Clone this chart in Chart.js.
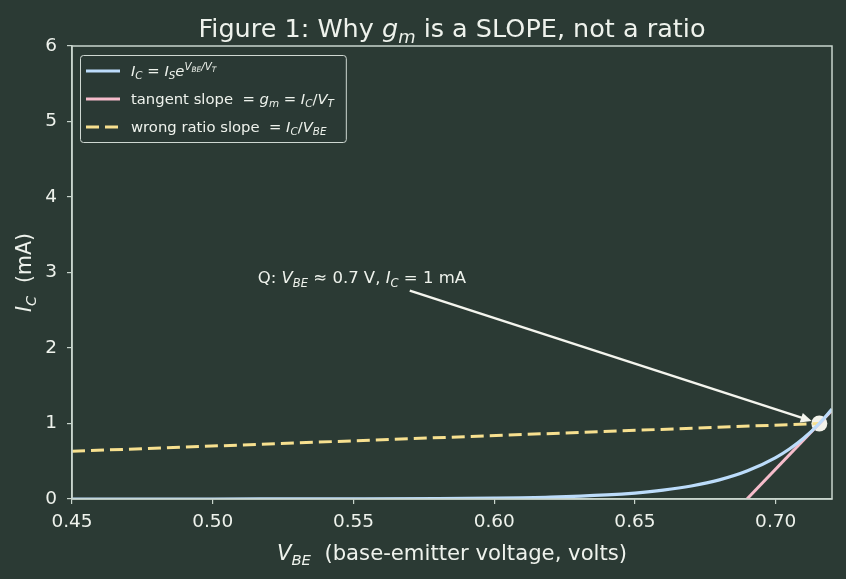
<!DOCTYPE html>
<html>
<head>
<meta charset="utf-8">
<script src="https://cdn.jsdelivr.net/npm/chart.js@4.4.1/dist/chart.umd.min.js"></script>
<style>
  html, body { margin: 0; background: #2b3a34; }
  #wrap { width: 846px; height: 579px; position: relative; }
</style>
</head>
<body>
<div id="wrap"><canvas id="c"></canvas></div>
<script>
// valores
const vbe = [0.45, 0.50, 0.55, 0.58, 0.60, 0.62, 0.64, 0.65, 0.66, 0.67, 0.68, 0.69, 0.70, 0.705, 0.71, 0.7155, 0.72];
const icCurva = [0.0000, 0.0002, 0.0017, 0.0053, 0.0115, 0.025, 0.054, 0.079, 0.117, 0.172, 0.253, 0.373, 0.549, 0.666, 0.808, 1.0, 1.19];
const tangX = [0.6898, 0.72];
const tangY = [0.0, 1.174];
const razaoX = [0.45, 0.7155];
const razaoY = [0.632, 1.0];
const pontoQ = [0.7155, 1.0];
const xTicks = [0.45, 0.50, 0.55, 0.60, 0.65, 0.70];
const yTicks = [0, 1, 2, 3, 4, 5, 6];
const textoQ = [0.516, 2.94];
const setaInicio = [0.570, 2.76];

const corFundo = '#2b3a34';
const corTexto = '#eef2ec';
const corEixo = '#c9d5cd';
const FONTE = '"DejaVu Sans"';

//Textos com partes em itálico / subscrito
const titulo = [['Figure 1: Why ', 'r'], ['g', 'i'], ['m', 'sub'], [' is a SLOPE, not a ratio', 'r']];
const rotuloX = [['V', 'i'], ['BE', 'sub'], ['  (base-emitter voltage, volts)', 'r']];
const rotuloY = [['I', 'i'], ['C', 'sub'], ['  (mA)', 'r']];
const rotuloQ = [['Q: ', 'r'], ['V', 'i'], ['BE', 'sub'], [' \u2248 0.7 V, ', 'r'], ['I', 'i'], ['C', 'sub'], [' = 1 mA', 'r']];
const legendas = [
    [['I', 'i'], ['C', 'sub'], [' = ', 'r'], ['I', 'i'], ['S', 'sub'], ['e', 'i'], ['V', 'sup'], ['BE', 'supsub'], ['/V', 'sup'], ['T', 'supsub']],
    [['tangent slope  = ', 'r'], ['g', 'i'], ['m', 'sub'], [' = ', 'r'], ['I', 'i'], ['C', 'sub'], ['/', 'r'], ['V', 'i'], ['T', 'sub']],
    [['wrong ratio slope  = ', 'r'], ['I', 'i'], ['C', 'sub'], ['/', 'r'], ['V', 'i'], ['BE', 'sub']]
];

const estilos = {
    r: { it: false, s: 1, dy: 0 },
    i: { it: true, s: 1, dy: 0 },
    sub: { it: true, s: 0.7, dy: 0.22 },
    sup: { it: true, s: 0.7, dy: -0.42 },
    supsub: { it: true, s: 0.5, dy: -0.25 }
};

function fonte(st, size) {
    return (st.it ? 'italic ' : '') + (size * st.s).toFixed(2) + 'px ' + FONTE;
}

function larguraRica(ctx, segs, size) {
    let w = 0;
    for (const [t, k] of segs) {
        ctx.font = fonte(estilos[k], size);
        w += ctx.measureText(t).width;
    }
    return w;
}

function desenharRico(ctx, segs, x, y, size, align, cor) {
    let w = larguraRica(ctx, segs, size);
    let px = align == 'center' ? x - w / 2 : x;
    ctx.save();
    ctx.fillStyle = cor;
    ctx.textBaseline = 'alphabetic';
    ctx.textAlign = 'left';
    for (const [t, k] of segs) {
        let st = estilos[k];
        ctx.font = fonte(st, size);
        ctx.fillText(t, px, y + st.dy * size);
        px += ctx.measureText(t).width;
    }
    ctx.restore();
}

const pares = (xs, ys) => xs.map((x, i) => ({ x: x, y: ys[i] }));

const extras = {
    id: 'extras',
    beforeDraw(chart) {
        const ctx = chart.ctx;
        ctx.save();
        ctx.fillStyle = corFundo;
        ctx.fillRect(0, 0, chart.width, chart.height);
        ctx.restore();
    },
    afterDatasetsDraw(chart) {
        const ctx = chart.ctx;
        const sx = chart.scales.x, sy = chart.scales.y;
        //Seta da anotação
        let x0 = sx.getPixelForValue(setaInicio[0]), y0 = sy.getPixelForValue(setaInicio[1]);
        let qx = sx.getPixelForValue(pontoQ[0]), qy = sy.getPixelForValue(pontoQ[1]);
        let ang = Math.atan2(qy - y0, qx - x0);
        let x1 = qx - Math.cos(ang) * 8, y1 = qy - Math.sin(ang) * 8;
        ctx.save();
        ctx.strokeStyle = '#f4f5ee';
        ctx.fillStyle = '#f4f5ee';
        ctx.lineWidth = 2.5;
        ctx.beginPath();
        ctx.moveTo(x0, y0);
        ctx.lineTo(x1 - Math.cos(ang) * 6, y1 - Math.sin(ang) * 6);
        ctx.stroke();
        ctx.beginPath();
        ctx.moveTo(x1, y1);
        ctx.lineTo(x1 - Math.cos(ang) * 11 + Math.sin(ang) * 5, y1 - Math.sin(ang) * 11 - Math.cos(ang) * 5);
        ctx.lineTo(x1 - Math.cos(ang) * 11 - Math.sin(ang) * 5, y1 - Math.sin(ang) * 11 + Math.cos(ang) * 5);
        ctx.closePath();
        ctx.fill();
        ctx.restore();
        desenharRico(ctx, rotuloQ, sx.getPixelForValue(textoQ[0]), sy.getPixelForValue(textoQ[1]) + 6, 16.5, 'left', corTexto);
    },
    afterDraw(chart) {
        const ctx = chart.ctx;
        const a = chart.chartArea;
        //Moldura completa
        ctx.save();
        ctx.strokeStyle = corEixo;
        ctx.lineWidth = 1.5;
        ctx.strokeRect(a.left, a.top, a.right - a.left, a.bottom - a.top);
        ctx.restore();

        //Legenda
        const tam = 14.8;
        let larg = 0;
        for (const l of legendas) larg = Math.max(larg, larguraRica(ctx, l, tam));
        const bx = a.left + 8, by = a.top + 9, bw = larg + 63, bh = 87;
        ctx.save();
        ctx.fillStyle = 'rgba(43,58,52,0.8)';
        ctx.strokeStyle = '#cfd8d2';
        ctx.lineWidth = 1;
        ctx.beginPath();
        ctx.roundRect(bx + 0.5, by + 0.5, bw, bh, 3);
        ctx.fill();
        ctx.stroke();
        const dsLeg = chart.data.datasets.slice(0, 3);
        dsLeg.forEach((ds, i) => {
            let ly = by + 16 + i * 28;
            ctx.strokeStyle = ds.borderColor;
            ctx.lineWidth = 3;
            ctx.setLineDash(ds.borderDash || []);
            ctx.beginPath();
            ctx.moveTo(bx + 6, ly);
            ctx.lineTo(bx + 40, ly);
            ctx.stroke();
            ctx.setLineDash([]);
            desenharRico(ctx, legendas[i], bx + 51, ly + 5, tam, 'left', corTexto);
        });
        ctx.restore();

        //Título e rótulos dos eixos
        const cx = (a.left + a.right) / 2;
        desenharRico(ctx, titulo, cx, 37, 25.5, 'center', corTexto);
        desenharRico(ctx, rotuloX, cx, 560, 21.2, 'center', corTexto);
        ctx.save();
        ctx.translate(31, (a.top + a.bottom) / 2);
        ctx.rotate(-Math.PI / 2);
        desenharRico(ctx, rotuloY, 0, 0, 20.5, 'center', corTexto);
        ctx.restore();
    }
};

new Chart(document.getElementById('c'), {
    type: 'line',
    data: {
        datasets: [
            {
                label: 'IC = IS e^(VBE/VT)',
                data: pares(vbe, icCurva),
                borderColor: '#bcdcfb',
                borderWidth: 3.2,
                cubicInterpolationMode: 'monotone',
                pointRadius: 0
            },
            {
                label: 'tangent slope = gm = IC/VT',
                data: pares(tangX, tangY),
                borderColor: '#f6bccb',
                borderWidth: 3,
                pointRadius: 0
            },
            {
                label: 'wrong ratio slope = IC/VBE',
                data: pares(razaoX, razaoY),
                borderColor: '#f7e08f',
                borderWidth: 3,
                borderDash: [13, 6],
                pointRadius: 0
            },
            {
                label: 'Q',
                data: [{ x: pontoQ[0], y: pontoQ[1] }],
                showLine: false,
                pointRadius: 8,
                pointBackgroundColor: '#f2f2ea',
                pointBorderWidth: 0,
                clip: false
            }
        ]
    },
    options: {
        responsive: true,
        maintainAspectRatio: false,
        animation: false,
        events: [],
        layout: { padding: { top: 46, right: 14, left: 0, bottom: 0 } },
        plugins: {
            legend: { display: false },
            tooltip: { enabled: false },
            title: { display: false }
        },
        scales: {
            x: {
                type: 'linear',
                min: 0.45,
                max: 0.72,
                afterBuildTicks: s => { s.ticks = xTicks.map(v => ({ value: v })); },
                afterFit: s => { s.height = 80; },
                ticks: {
                    color: corTexto,
                    font: { family: FONTE, size: 18.5 },
                    padding: 7,
                    maxRotation: 0,
                    callback: v => v.toFixed(2)
                },
                grid: { drawOnChartArea: false, drawTicks: true, tickLength: 5, color: corEixo, lineWidth: 1.2 },
                border: { color: corEixo, width: 1.5 }
            },
            y: {
                min: 0,
                max: 6,
                afterBuildTicks: s => { s.ticks = yTicks.map(v => ({ value: v })); },
                afterFit: s => { s.width = 72; },
                ticks: {
                    color: corTexto,
                    font: { family: FONTE, size: 18.5 },
                    padding: 10,
                    callback: v => String(v)
                },
                grid: { drawOnChartArea: false, drawTicks: true, tickLength: 5, color: corEixo, lineWidth: 1.2 },
                border: { color: corEixo, width: 1.5 }
            }
        }
    },
    plugins: [extras]
});
</script>
</body>
</html>
